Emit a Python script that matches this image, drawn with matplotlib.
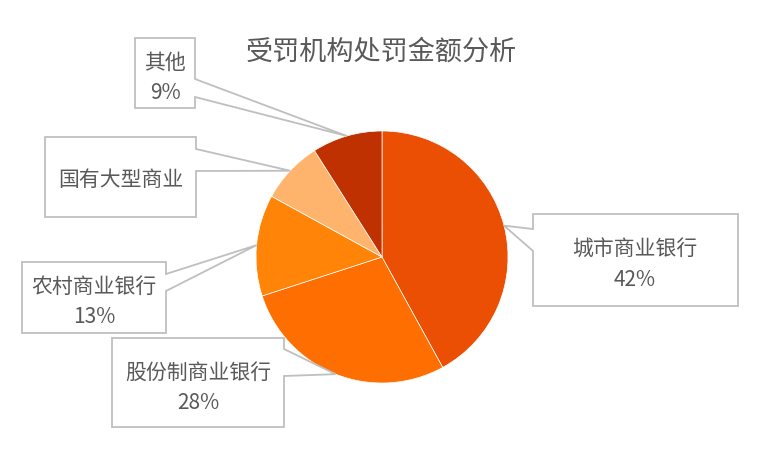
import numpy as np
import matplotlib.pyplot as plt
from matplotlib.patches import Polygon

plt.rcParams['font.family'] = ['Noto Sans CJK SC', 'DejaVu Sans']

# 数据
categories = ['城市商业银行', '股份制商业银行', '农村商业银行', '国有大型商业', '其他']
shares = [42, 28, 13, 8, 9]
show_pct = [True, True, True, False, True]
colors = ['#EA4F03', '#FF6E00', '#FF8408', '#FFB46E', '#BF3100']

TITLE = '受罚机构处罚金额分析'
W, H = 775, 456
TEXT_COLOR = '#595959'
LINE_COLOR = '#BFBFBF'

# 标签框布局（像素，左上为原点）: x0, y0, x1, y1, 指针所在边, 指针根部 y 范围, 文字中心
boxes = [
    dict(box=(533, 215, 738, 307), side='left', base=(230, 252), txt=(635, 265)),
    dict(box=(112, 339, 284, 428), side='right', base=(350, 377), txt=(198, 388)),
    dict(box=(22, 263, 166, 334), side='right', base=(275, 292), txt=(94, 302)),
    dict(box=(45, 138, 196, 218), side='right', base=(150, 172), txt=(121, 180)),
    dict(box=(135, 39, 195, 109), side='right', base=(80, 98), txt=(165, 78)),
]


def fy(y):
    """像素 y 转换为数据坐标 y。"""
    return H - y


fig = plt.figure(figsize=(W / 100, H / 100), dpi=100)
ax = fig.add_axes([0, 0, 1, 1])
ax.set_xlim(0, W)
ax.set_ylim(0, H)
ax.set_aspect('equal')
ax.axis('off')

cx, cy, r = 382, fy(258), 126
wedges, _ = ax.pie(shares, colors=colors, startangle=90, counterclock=False,
                   center=(cx, cy), radius=r, frame=True,
                   wedgeprops=dict(edgecolor='white', linewidth=0.5))
ax.set_xlim(0, W)
ax.set_ylim(0, H)
ax.axis('off')

for w, name, val, pct, b in zip(wedges, categories, shares, show_pct, boxes):
    mid = np.deg2rad((w.theta1 + w.theta2) / 2)
    tip = (cx + r * np.cos(mid), cy + r * np.sin(mid))
    x0, y0, x1, y1 = b['box']
    ya, yb = b['base']
    if b['side'] == 'right':
        pts = [(x0, fy(y0)), (x1, fy(y0)), (x1, fy(ya)), tip,
               (x1, fy(yb)), (x1, fy(y1)), (x0, fy(y1))]
    else:
        pts = [(x0, fy(y0)), (x1, fy(y0)), (x1, fy(y1)), (x0, fy(y1)),
               (x0, fy(yb)), tip, (x0, fy(ya))]
    ax.add_patch(Polygon(pts, closed=True, facecolor='white',
                         edgecolor=LINE_COLOR, linewidth=1.3, zorder=3))
    label = f'{name}\n{val}%' if pct else name
    tx, ty = b['txt']
    ax.text(tx, fy(ty), label, ha='center', va='center', fontsize=15,
            color=TEXT_COLOR, linespacing=1.45, zorder=4)

ax.text(381, fy(52), TITLE, ha='center', va='center', fontsize=19.5,
        color=TEXT_COLOR)

fig.savefig('out.png', dpi=100)
